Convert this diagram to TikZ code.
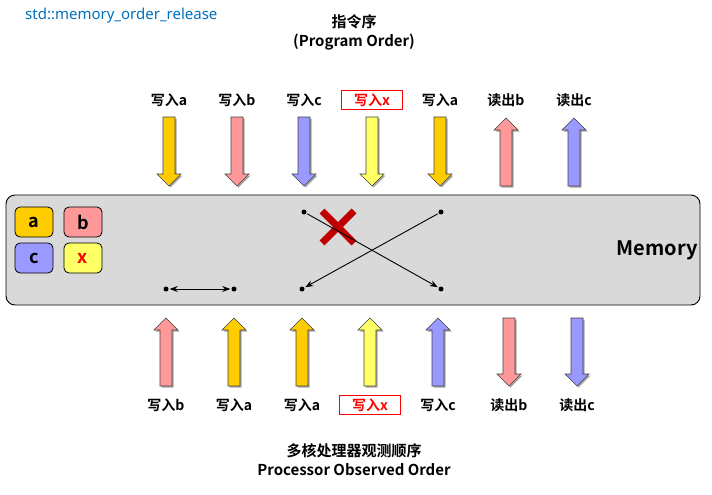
\documentclass[tikz,border=0pt]{standalone}
\usepackage{fontspec}
\setmainfont{Noto Sans CJK SC}[BoldFont={Noto Sans CJK SC Bold}]
\newfontfamily\titlefont{Noto Sans}
\usetikzlibrary{arrows.meta}
\definecolor{cgold}{HTML}{FFCC00}
\definecolor{cpink}{HTML}{FF9999}
\definecolor{clav}{HTML}{9999FF}
\definecolor{cyel}{HTML}{FFFF66}
\definecolor{cblue}{HTML}{0070C0}
\definecolor{cdred}{HTML}{C00000}
\definecolor{cmem}{HTML}{D9D9D9}
\newcommand\fatarrow[5]{% x, tail y, head base y, tip y, colour
  \fill[black!35] ([shift={(1.5,1.5)}]#1-6,#2) -- ([shift={(1.5,1.5)}]#1+6,#2) -- ([shift={(1.5,1.5)}]#1+6,#3) -- ([shift={(1.5,1.5)}]#1+12,#3) -- ([shift={(1.5,1.5)}]#1,#4) -- ([shift={(1.5,1.5)}]#1-12,#3) -- ([shift={(1.5,1.5)}]#1-6,#3) -- cycle;
  \filldraw[fill=#5, draw=black!75, line width=0.6pt, line join=miter] (#1-6,#2) -- (#1+6,#2) -- (#1+6,#3) -- (#1+12,#3) -- (#1,#4) -- (#1-12,#3) -- (#1-6,#3) -- cycle;}
\begin{document}
\begin{tikzpicture}[x=1pt,y=-1pt,
  lbl/.style={font=\bfseries\fontsize{14}{16}\selectfont, inner sep=0pt},
  redlbl/.style={lbl, text=red, draw=red, line width=0.7pt, fill=white, minimum width=61, minimum height=19},
  ttlbl/.style={font=\bfseries\fontsize{15}{17}\selectfont, inner sep=0pt},
  var/.style={draw=black, line width=0.8pt, rounded corners=5pt, minimum width=38, minimum height=30, font=\bfseries\fontsize{18}{20}\selectfont, inner sep=0pt},
  dot/.style={circle, fill=black, inner sep=0pt, minimum size=5},
  conn/.style={line width=0.9pt, -{Stealth[length=8pt,width=6pt]}, shorten >=1pt, shorten <=1pt}]
\useasboundingbox (0,0) rectangle (712,495);
% titles
\node[anchor=west, text=cblue, font=\titlefont\fontsize{15}{17}\selectfont, inner sep=0pt] (ttl) at (25,16) {std::memory\_order\_release};
\node[ttlbl] (po1) at (354,22) {指令序};
\node[ttlbl] (po2) at (354,42) {(Program Order)};
\node[ttlbl] (oo1) at (354,451) {多核处理器观测顺序};
\node[ttlbl] (oo2) at (354,470) {Processor Observed Order};
% memory
\node[draw=black, line width=0.9pt, fill=cmem, rounded corners=9pt, minimum width=694, minimum height=110, inner sep=0pt] (mem) at (353,250) {};
\node[font=\bfseries\fontsize{20}{22}\selectfont, inner sep=0pt, anchor=east] (memtxt) at (698,250) {Memory};
\node[var, fill=cgold] (va) at (34,222) {a};
\node[var, fill=cpink] (vb) at (83,222) {b};
\node[var, fill=clav] (vc) at (34,258) {c};
\node[var, fill=cyel, text=red] (vx) at (83,258) {x};
% top labels
\node[lbl] (t1) at (169,100) {写入a};
\node[lbl] (t2) at (237,100) {写入b};
\node[lbl] (t3) at (304,100) {写入c};
\node[redlbl] (t4) at (372,100) {写入x};
\node[lbl] (t5) at (440,100) {写入a};
\node[lbl] (t6) at (506,100) {读出b};
\node[lbl] (t7) at (574,100) {读出c};
% top arrows
\fatarrow{169}{117}{174}{186}{cgold}
\fatarrow{237}{117}{174}{186}{cpink}
\fatarrow{304}{117}{174}{186}{clav}
\fatarrow{372}{117}{174}{186}{cyel}
\fatarrow{440}{117}{174}{186}{cgold}
\fatarrow{506}{186}{130}{118}{cpink}
\fatarrow{574}{186}{130}{118}{clav}
% bottom arrows
\fatarrow{166}{386}{330}{318}{cpink}
\fatarrow{234}{386}{330}{318}{cgold}
\fatarrow{302}{386}{330}{318}{cgold}
\fatarrow{370}{386}{330}{318}{cyel}
\fatarrow{438}{386}{330}{318}{clav}
\fatarrow{509}{318}{374}{386}{cpink}
\fatarrow{577}{318}{374}{386}{clav}
% bottom labels
\node[lbl] (b1) at (166,405) {写入b};
\node[lbl] (b2) at (234,405) {写入a};
\node[lbl] (b3) at (302,405) {写入a};
\node[redlbl] (b4) at (370,405) {写入x};
\node[lbl] (b5) at (438,405) {写入c};
\node[lbl] (b6) at (509,405) {读出b};
\node[lbl] (b7) at (577,405) {读出c};
% dots and connectors
\node[dot] (p1) at (166,289) {};
\node[dot] (p2) at (234,289) {};
\node[dot] (q1) at (304,212) {};
\node[dot] (q2) at (441,212) {};
\node[dot] (q3) at (302,289) {};
\node[dot] (q4) at (441,289) {};
\draw[cdred, line width=7pt] (322,211) -- (354,243);
\draw[cdred, line width=7pt] (354,211) -- (322,243);
\draw[conn, {Stealth[length=8pt,width=6pt]}-{Stealth[length=8pt,width=6pt]}] (p1) -- (p2);
\draw[conn] (q1) -- (q4);
\draw[conn] (q2) -- (q3);
\end{tikzpicture}
\end{document}
